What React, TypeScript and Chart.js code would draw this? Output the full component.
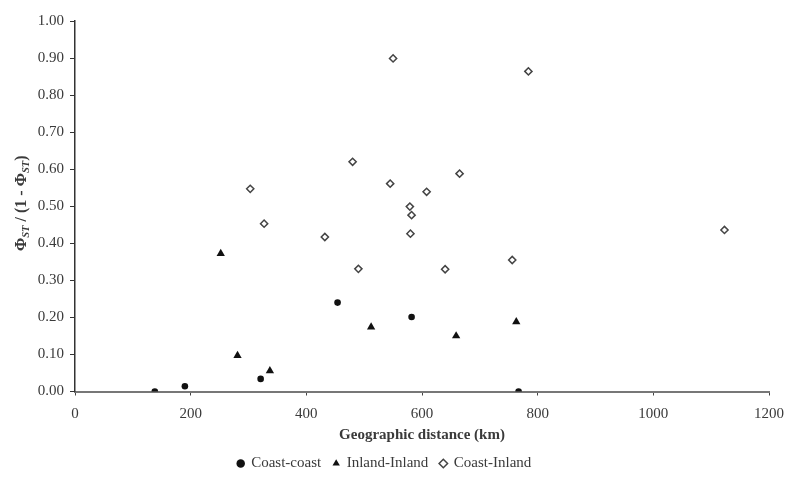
import React, { useEffect, useRef } from "react";
import { Chart, registerables } from "chart.js";

Chart.register(...registerables);

const coastCoastKm = [138, 190, 321, 454, 582, 767];
const coastCoastVal = [0.0, 0.014, 0.034, 0.24, 0.201, 0.0];

const inlandKm = [252, 281, 337, 512, 659, 763];
const inlandVal = [0.372, 0.097, 0.056, 0.174, 0.15, 0.188];

const coastInlandKm = [303, 327, 432, 480, 490, 545, 550, 579, 582, 580, 608, 640, 665, 756, 784, 1123];
const coastInlandVal = [0.547, 0.453, 0.417, 0.62, 0.331, 0.561, 0.899, 0.499, 0.476, 0.426, 0.539, 0.33, 0.588, 0.355, 0.864, 0.436];

const seriesNames = ["Coast-coast", "Inland-Inland", "Coast-Inland"];
const xTitle = "Geographic distance (km)";
const yTitleParts = [
  { t: "\u03A6", sub: false },
  { t: "ST", sub: true },
  { t: " / (1 - ", sub: false },
  { t: "\u03A6", sub: false },
  { t: "ST", sub: true },
  { t: ")", sub: false },
];

const FONT = "'Liberation Serif', 'Times New Roman', serif";
const TEXT = "#3a3a3a";

const toPts = (xs: number[], ys: number[]) => xs.map((x, i) => ({ x, y: ys[i] }));

const yTitlePlugin = {
  id: "yTitle",
  afterDraw(chart: any) {
    const { ctx, chartArea } = chart;
    const mainFont = `bold 16px ${FONT}`;
    const subFont = `italic bold 10.5px ${FONT}`;
    ctx.save();
    let total = 0;
    const widths = yTitleParts.map((p) => {
      ctx.font = p.sub ? subFont : mainFont;
      const w = ctx.measureText(p.t).width;
      total += w;
      return w;
    });
    const cx = 22;
    const cy = (chartArea.top + chartArea.bottom) / 2 - 3;
    ctx.translate(cx, cy);
    ctx.rotate(-Math.PI / 2);
    ctx.fillStyle = TEXT;
    ctx.textBaseline = "middle";
    ctx.textAlign = "left";
    let x = -total / 2;
    yTitleParts.forEach((p, i) => {
      ctx.font = p.sub ? subFont : mainFont;
      ctx.fillText(p.t, x, p.sub ? 4 : 0);
      x += widths[i];
    });
    ctx.restore();
  },
};

export default function App() {
  const ref = useRef<HTMLCanvasElement | null>(null);
  useEffect(() => {
    if (!ref.current) return;
    const chart = new Chart(ref.current, {
      type: "scatter",
      data: {
        datasets: [
          {
            label: seriesNames[0],
            data: toPts(coastCoastKm, coastCoastVal),
            pointStyle: "circle",
            pointRadius: 3.3,
            backgroundColor: "#111",
            borderColor: "#111",
            borderWidth: 0,
          },
          {
            label: seriesNames[1],
            data: toPts(inlandKm, inlandVal),
            pointStyle: "triangle",
            pointRadius: 4.8,
            backgroundColor: "#111",
            borderColor: "#111",
            borderWidth: 0,
          },
          {
            label: seriesNames[2],
            data: toPts(coastInlandKm, coastInlandVal),
            pointStyle: "rectRot",
            pointRadius: 3.6,
            backgroundColor: "#fff",
            borderColor: "#444",
            borderWidth: 1.5,
          },
        ],
      },
      options: {
        responsive: false,
        animation: false,
        layout: { padding: { top: 21, right: 18, left: 0, bottom: 2 } },
        plugins: {
          legend: {
            position: "bottom",
            labels: {
              usePointStyle: true,
              boxWidth: 6,
              boxHeight: 6,
              padding: 12,
              color: TEXT,
              font: { family: FONT, size: 15 },
            },
          },
          tooltip: { enabled: false },
        },
        scales: {
          x: {
            type: "linear",
            min: 0,
            max: 1200,
            ticks: {
              stepSize: 200,
              color: TEXT,
              font: { family: FONT, size: 15 },
              padding: 10,
              callback: (v: any) => String(v),
            },
            grid: { drawOnChartArea: false, drawTicks: true, tickLength: 4, color: "#444" },
            border: { display: true, color: "#777", width: 2 },
            title: {
              display: true,
              text: xTitle,
              color: TEXT,
              font: { family: FONT, size: 15, weight: "bold" },
              padding: { top: 0, bottom: 0 },
            },
            afterFit: (s: any) => {
              s.height = 52.5;
              s.paddingLeft = 0;
              s.paddingRight = 0;
            },
          },
          y: {
            type: "linear",
            min: 0,
            max: 1,
            ticks: {
              stepSize: 0.1,
              color: TEXT,
              font: { family: FONT, size: 15 },
              padding: 6,
              callback: (v: any) => Number(v).toFixed(2),
            },
            grid: { drawOnChartArea: false, drawTicks: true, tickLength: 5, color: "#333" },
            border: { display: true, color: "#333", width: 1.5 },
            afterFit: (s: any) => {
              s.width = 75;
              s.paddingTop = 0;
              s.paddingBottom = 0;
            },
          },
        },
      },
      plugins: [yTitlePlugin],
    } as any);
    return () => chart.destroy();
  }, []);
  return (
    <div style={{ position: "absolute", left: 0, top: 0, width: 787, height: 483, background: "#fff" }}>
      <canvas ref={ref} width={787} height={483} />
    </div>
  );
}
